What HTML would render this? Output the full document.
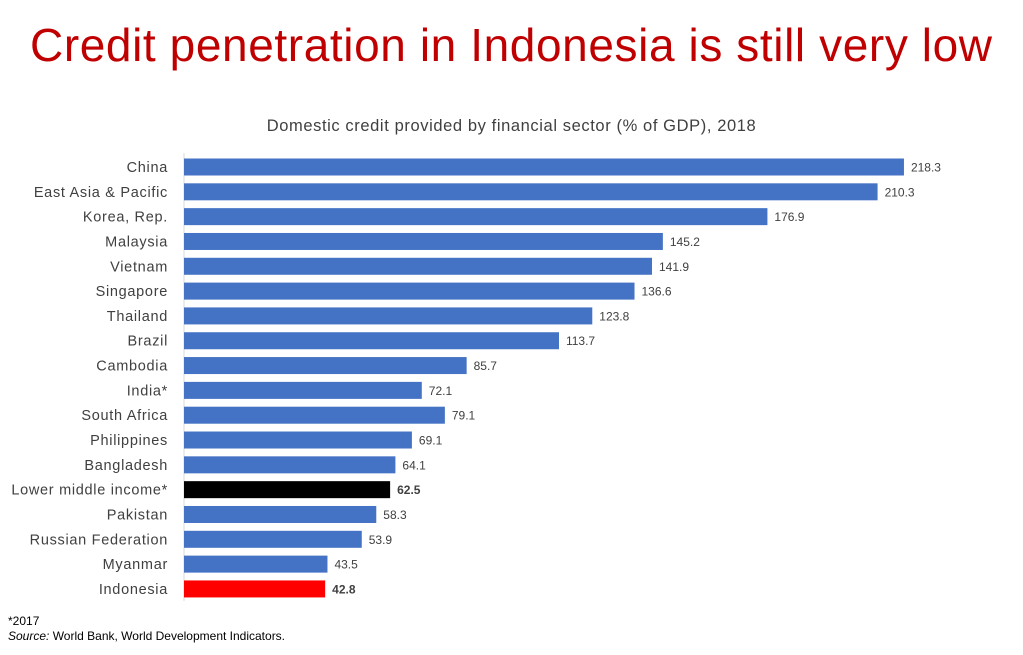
<!DOCTYPE html>
<html><head><meta charset="utf-8"><style>
body{margin:0;width:1023px;height:655px;background:#fff;font-family:"Liberation Sans",sans-serif;position:relative;overflow:hidden}
.t{position:absolute;left:30px;top:18px;font-size:46px;letter-spacing:0.6px;color:#c00000;white-space:nowrap}
.s{position:absolute;left:0;width:1023px;text-align:center;top:117px;font-size:16.5px;letter-spacing:0.6px;color:#404040}
.f{position:absolute;left:8px;font-size:12px;color:#000}
</style></head><body>
<div class="t">Credit penetration in Indonesia is still very low</div>
<div class="s">Domestic credit provided by financial sector (% of GDP), 2018</div>
<svg width="1023" height="655" style="position:absolute;left:0;top:0" font-family="Liberation Sans, sans-serif">
<line x1="184" y1="153" x2="184" y2="601" stroke="#d9d9d9"/>
<g id="g"></g>
</svg>
<div class="f" style="top:614px">*2017</div>
<div class="f" style="top:629px"><i>Source:</i> World Bank, World Development Indicators.</div>
<script>
const d=[["China",218.3],["East Asia & Pacific",210.3],["Korea, Rep.",176.9],["Malaysia",145.2],["Vietnam",141.9],["Singapore",136.6],["Thailand",123.8],["Brazil",113.7],["Cambodia",85.7],["India*",72.1],["South Africa",79.1],["Philippines",69.1],["Bangladesh",64.1],["Lower middle income*",62.5],["Pakistan",58.3],["Russian Federation",53.9],["Myanmar",43.5],["Indonesia",42.8]];
let h="";d.forEach((r,i)=>{const y=167+i*24.82,w=r[1]*3.298;
const c=r[0].startsWith("Lower")?"#000":r[0]=="Indonesia"?"#ff0000":"#4472c4";
const b=(c!="#4472c4")?' font-weight="bold"':'';
h+=`<rect x="184" y="${y-8.5}" width="${w}" height="17" fill="${c}"/>`;
h+=`<text x="168" y="${y+5}" text-anchor="end" font-size="14.5" letter-spacing="0.7" fill="#404040">${r[0].replace("&","&amp;")}</text>`;
h+=`<text x="${184+w+7}" y="${y+4.5}" font-size="12" fill="#404040"${b}>${r[1].toFixed(1)}</text>`;});
document.getElementById("g").innerHTML=h;
</script>
</body></html>
